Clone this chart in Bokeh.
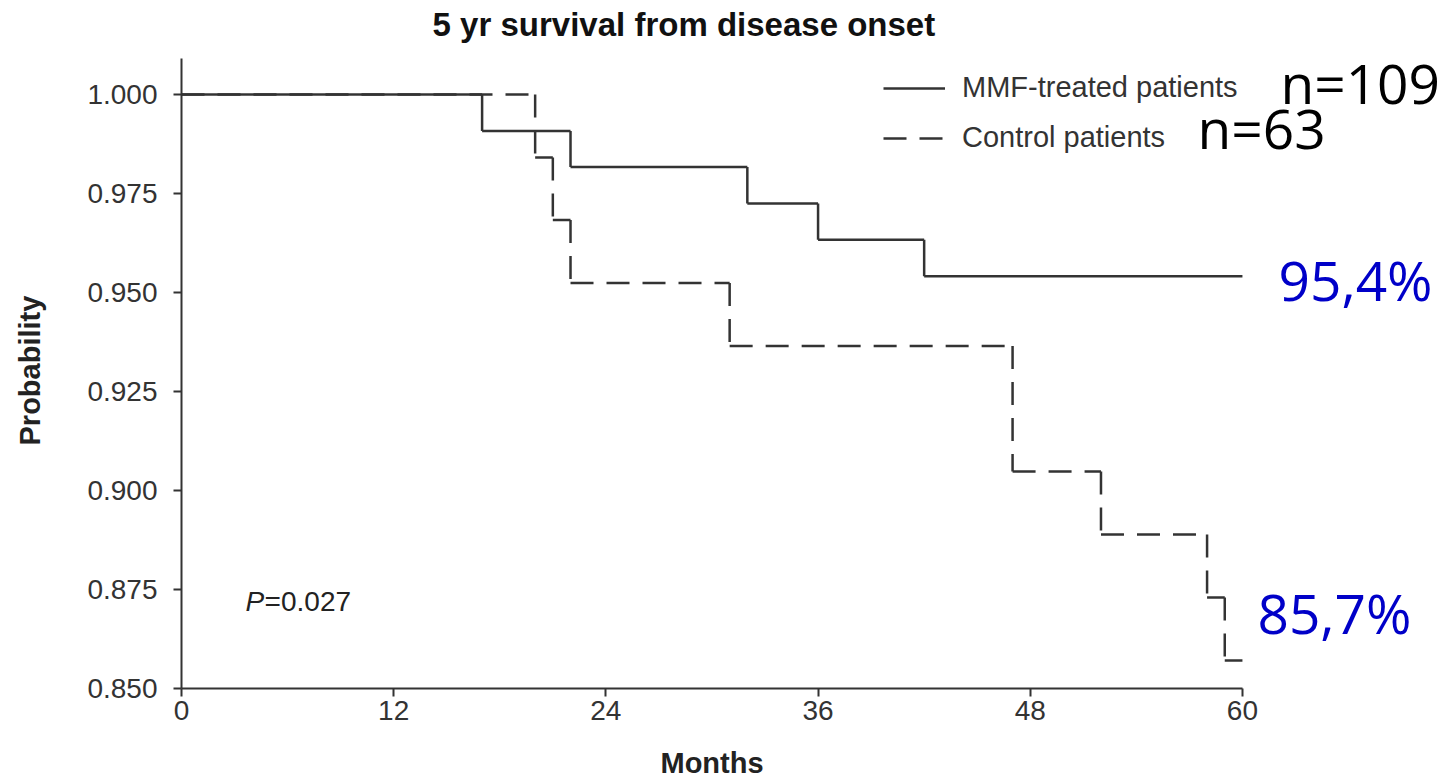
from bokeh.plotting import figure
from bokeh.models import (Label, Legend, LegendItem, Range1d, FixedTicker,
                          PrintfTickFormatter, ColumnDataSource, Title)
from bokeh.embed import file_html
from bokeh.resources import INLINE

# ---------------- data ----------------
title_text = "5 yr survival from disease onset"
x_label = "Months"
y_label = "Probability"
month_ticks = [0, 12, 24, 36, 48, 60]
prob_ticks = [0.850, 0.875, 0.900, 0.925, 0.950, 0.975, 1.000]

series_names = ["MMF-treated patients", "Control patients"]
mmf_months = [0, 17, 22, 32, 36, 42]
mmf_surv = [1.000, 0.9908, 0.9817, 0.9725, 0.9633, 0.9541]
ctrl_months = [0, 20, 21, 22, 31, 47, 52, 58, 59]
ctrl_surv = [1.000, 0.9841, 0.9683, 0.9524, 0.9365, 0.9048, 0.8889, 0.8730, 0.8571]
follow_up_end = 60

n_labels = ["n=109", "n=63"]
final_pct = ["95,4%", "85,7%"]
p_value = "0.027"

LINE_COLOR = "#333333"
AX_FONT = "Liberation Sans"


def step_segments(t, s, end):
    x0, y0, x1, y1 = [], [], [], []
    for i in range(len(t)):
        tn = t[i + 1] if i + 1 < len(t) else end
        x0.append(t[i]); y0.append(s[i]); x1.append(tn); y1.append(s[i])
        if i + 1 < len(t):
            x0.append(tn); y0.append(s[i]); x1.append(tn); y1.append(s[i + 1])
    return ColumnDataSource(dict(x0=x0, y0=y0, x1=x1, y1=y1))


# frame spans to the right and top edges so that annotations are not clipped;
# the axes themselves are bounded to 0..60 and 0.850..1.009
p = figure(frame_width=1268, frame_height=688,
           x_range=Range1d(0, 71.71), y_range=Range1d(0.850, 1.02374),
           output_backend="svg", toolbar_location=None,
           min_border_left=181, min_border_right=0,
           min_border_top=0, min_border_bottom=94,
           background_fill_color="white", border_fill_color="white",
           outline_line_color=None)
p.xgrid.visible = False
p.ygrid.visible = False

for ax in (p.xaxis[0], p.yaxis[0]):
    ax.axis_line_color = LINE_COLOR
    ax.axis_line_width = 2
    ax.major_tick_line_color = LINE_COLOR
    ax.major_tick_line_width = 2
    ax.major_tick_out = 8
    ax.major_tick_in = 0
    ax.minor_tick_line_color = None
    ax.major_label_text_font = AX_FONT
    ax.major_label_text_font_size = "28px"
    ax.major_label_text_color = "#333333"
    # blank axis label used only as a spacer before the positioned titles
    ax.axis_label = " "
    ax.axis_label_text_font_size = "1px"

p.xaxis.axis_label_standoff = 18
p.yaxis.axis_label_standoff = 35

p.xaxis.bounds = (0, 60)
p.yaxis.bounds = (0.850, 1.0091)
p.xaxis.ticker = FixedTicker(ticks=month_ticks)
p.yaxis.ticker = FixedTicker(ticks=prob_ticks)
p.yaxis.formatter = PrintfTickFormatter(format="%.3f")
p.xaxis.major_label_standoff = 4
p.yaxis.major_label_standoff = 16

# axis titles placed in the side panels, positioned like the original
p.add_layout(Title(text=x_label, align="left", offset=479, standoff=0,
                   text_font=AX_FONT, text_font_size="29px",
                   text_font_style="bold", text_color="#222222"), "below")
p.add_layout(Title(text=y_label, align="left", offset=243, standoff=0,
                   text_font=AX_FONT, text_font_size="29px",
                   text_font_style="bold", text_color="#222222"), "left")

src_mmf = step_segments(mmf_months, mmf_surv, follow_up_end)
src_ctrl = step_segments(ctrl_months, ctrl_surv, follow_up_end)
r_mmf = p.segment("x0", "y0", "x1", "y1", source=src_mmf,
                  line_color=LINE_COLOR, line_width=2.5)
r_ctrl = p.segment("x0", "y0", "x1", "y1", source=src_ctrl,
                   line_color=LINE_COLOR, line_width=2.5, line_dash="23 13")

legend = Legend(items=[LegendItem(label=series_names[0], renderers=[r_mmf]),
                       LegendItem(label=series_names[1], renderers=[r_ctrl])],
                location=(702, 534), glyph_width=62, glyph_height=20,
                label_standoff=17, spacing=17, padding=0, margin=0,
                border_line_alpha=0, background_fill_alpha=0,
                label_text_font=AX_FONT, label_text_font_size="29px",
                label_text_color="#333333")
p.add_layout(legend)

# chart title (offset to the left like the original)
p.add_layout(Label(x=14.2, y=1.0177, text=title_text, text_font=AX_FONT,
                   text_font_size="33px", text_font_style="bold",
                   text_color="#111111", text_baseline="alphabetic"))

# P value
p.add_layout(Label(x=3.62, y=0.8720, text="P", text_font=AX_FONT,
                   text_font_size="28px", text_font_style="italic",
                   text_color="#222222", text_baseline="alphabetic"))
p.add_layout(Label(x=4.70, y=0.8720, text="=" + p_value, text_font=AX_FONT,
                   text_font_size="28px", text_color="#222222",
                   text_baseline="alphabetic"))

# overlay annotations
OV_FONT = "Open Sans"
p.add_layout(Label(x=62.15, y=1.00303, text=n_labels[0], text_font=OV_FONT,
                   text_font_size="55px", text_color="black",
                   text_baseline="alphabetic"))
p.add_layout(Label(x=57.46, y=0.99167, text=n_labels[1], text_font=OV_FONT,
                   text_font_size="55px", text_color="black",
                   text_baseline="alphabetic"))
p.add_layout(Label(x=62.04, y=0.95328, text=final_pct[0], text_font=OV_FONT,
                   text_font_size="55px", text_color="#0000c8",
                   text_baseline="alphabetic"))
p.add_layout(Label(x=60.85, y=0.86919, text=final_pct[1], text_font=OV_FONT,
                   text_font_size="55px", text_color="#0000c8",
                   text_baseline="alphabetic"))

open("out.html", "w").write(file_html(p, INLINE))
